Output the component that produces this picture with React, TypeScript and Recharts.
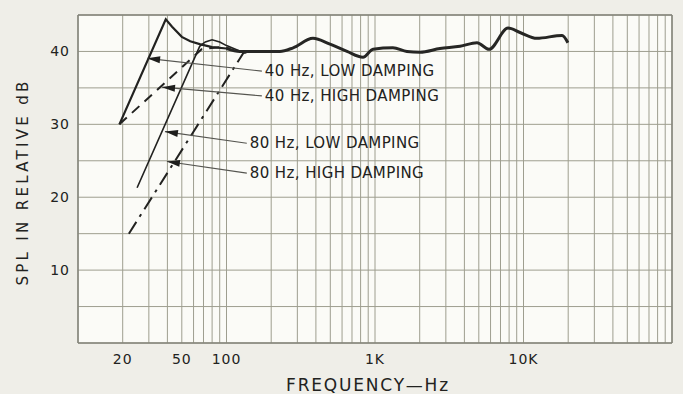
import React from 'react';
import {
  LineChart,
  Line,
  XAxis,
  YAxis,
  CartesianGrid,
  ReferenceLine
} from 'recharts';

// [frequency Hz, SPL dB]
const lowDamping40: [number, number][] = [
  [19, 30], [39, 44.4], [43, 43.4], [50, 42], [57, 41.4], [66, 41], [80, 40.6], [100, 40.4]
];
const highDamping40: [number, number][] = [
  [19, 30], [68, 40.3], [90, 40.6], [105, 40.4]
];
const lowDamping80: [number, number][] = [
  [25, 21.3], [66, 40.7], [72, 41.3], [80, 41.6], [90, 41.3], [100, 40.8], [125, 40]
];
const highDamping80: [number, number][] = [
  [22, 15], [130, 39.8], [160, 40.1]
];
const commonResponse: [number, number][] = [
  [100, 40.4], [123, 40], [168, 40], [229, 40], [281, 40.5], [382, 41.8], [498, 41],
  [648, 40], [830, 39.2], [970, 40.3], [1320, 40.5], [1640, 40], [2010, 39.9],
  [2740, 40.4], [3740, 40.7], [4860, 41.2], [5860, 40.3], [7870, 43.2], [9470, 42.6],
  [12300, 41.8], [18200, 42.2], [19900, 41.2]
];

const xLabels: Record<number, string> = { 20: '20', 50: '50', 100: '100', 1000: '1K', 10000: '10K' };
const yLabels = [10, 20, 30, 40];
const yGrid = [0, 5, 10, 15, 20, 25, 30, 35, 40, 45];

// annotation arrows: head point, tail point (both in Hz/dB), text
const noteHeads: [number, number][] = [[29.2, 39.05], [36.8, 35.1], [38.5, 29.0], [39.7, 24.9]];
const noteTails: [number, number][] = [[173, 37.3], [173, 33.9], [137, 27.4], [137, 23.3]];
const noteTexts = ['40 Hz, LOW DAMPING', '40 Hz, HIGH DAMPING', '80 Hz, LOW DAMPING', '80 Hz, HIGH DAMPING'];

const xGrid: number[] = [];
for (let d = 10; d < 100000; d *= 10) {
  for (let k = 1; k < 10; k++) xGrid.push(d * k);
}
xGrid.push(100000);

const toPts = (arr: [number, number][]) => arr.map(([f, db]) => ({ f, db }));

const FONT = '"DejaVu Sans", sans-serif';
const INK = '#222220';

const YLabel = (props: any) => {
  const vb = props.viewBox;
  const cx = 23;
  const cy = vb.y + vb.height / 2 + 3;
  return (
    <text
      x={cx}
      y={cy}
      transform={`rotate(-90 ${cx} ${cy})`}
      textAnchor="middle"
      dominantBaseline="central"
      fontFamily={FONT}
      fontSize={15}
      letterSpacing={3.3}
      fill={INK}
    >
      SPL IN RELATIVE dB
    </text>
  );
};

const XLabel = (props: any) => {
  const vb = props.viewBox;
  return (
    <text
      x={vb.x + vb.width / 2 - 7}
      y={391}
      textAnchor="middle"
      fontFamily={FONT}
      fontSize={17}
      letterSpacing={1.8}
      fill={INK}
    >
      FREQUENCY—Hz
    </text>
  );
};

const noteShape = (text: string) => (p: any) => {
  const { x1, y1, x2, y2 } = p;
  const dx = x2 - x1;
  const dy = y2 - y1;
  const len = Math.sqrt(dx * dx + dy * dy) || 1;
  const ux = dx / len;
  const uy = dy / len;
  const hl = 13;
  const hw = 3.5;
  const bx = x1 + ux * hl;
  const by = y1 + uy * hl;
  return (
    <g>
      <line x1={x1} y1={y1} x2={x2} y2={y2} stroke="#555550" strokeWidth={1.1} />
      <polygon
        points={`${x1},${y1} ${bx - uy * hw},${by + ux * hw} ${bx + uy * hw},${by - ux * hw}`}
        fill="#1e1e1c"
      />
      <text
        x={x2 + 3}
        y={y2}
        dominantBaseline="central"
        fontFamily={FONT}
        fontSize={15}
        letterSpacing={0.4}
        fill={INK}
      >
        {text}
      </text>
    </g>
  );
};

export default function App() {
  return (
    <div style={{ position: 'absolute', left: 0, top: 0, width: 683, height: 394, background: '#efeee8' }}>
      <LineChart width={683} height={394} margin={{ top: 15, right: 11, bottom: 0, left: 0 }}>
        <CartesianGrid
          stroke="#9e9e8f"
          strokeWidth={1}
          fill="#fbfbf7"
          verticalValues={xGrid}
          horizontalValues={yGrid}
        />
        <XAxis
          type="number"
          dataKey="f"
          scale="log"
          domain={[10, 100000]}
          ticks={xGrid}
          allowDataOverflow
          interval={0}
          height={51}
          tickLine={false}
          tickMargin={5}
          axisLine={{ stroke: '#85857b', strokeWidth: 1.5 }}
          tickFormatter={(v: number) => xLabels[v] ?? ''}
          tick={{ fontFamily: FONT, fontSize: 14, fill: INK, letterSpacing: 1 }}
          label={<XLabel />}
        />
        <YAxis
          type="number"
          domain={[0, 45]}
          ticks={yGrid}
          interval={0}
          width={78}
          tickLine={false}
          axisLine={{ stroke: '#85857b', strokeWidth: 1.5 }}
          tickFormatter={(v: number) => (yLabels.includes(v) ? String(v) : '')}
          tick={{ fontFamily: FONT, fontSize: 14, fill: INK, letterSpacing: 1 }}
          label={<YLabel />}
        />
        <ReferenceLine y={45} stroke="#85857b" strokeWidth={1.5} />
        <ReferenceLine x={100000} stroke="#85857b" strokeWidth={1.5} />
        <Line
          data={toPts(highDamping80)}
          dataKey="db"
          type="linear"
          stroke={INK}
          strokeWidth={2}
          strokeDasharray="14 6 3 6"
          dot={false}
          isAnimationActive={false}
        />
        <Line
          data={toPts(highDamping40)}
          dataKey="db"
          type="linear"
          stroke={INK}
          strokeWidth={2}
          strokeDasharray="10 7"
          dot={false}
          isAnimationActive={false}
        />
        <Line
          data={toPts(lowDamping80)}
          dataKey="db"
          type="linear"
          stroke={INK}
          strokeWidth={1.6}
          dot={false}
          isAnimationActive={false}
        />
        <Line
          data={toPts(lowDamping40)}
          dataKey="db"
          type="linear"
          stroke={INK}
          strokeWidth={2.2}
          dot={false}
          isAnimationActive={false}
        />
        <Line
          data={toPts(commonResponse)}
          dataKey="db"
          type="monotone"
          stroke="#262624"
          strokeWidth={3}
          dot={false}
          isAnimationActive={false}
        />
        {noteTexts.map((t, i) => (
          <ReferenceLine
            key={t}
            segment={[
              { x: noteHeads[i][0], y: noteHeads[i][1] },
              { x: noteTails[i][0], y: noteTails[i][1] }
            ]}
            shape={noteShape(t)}
          />
        ))}
      </LineChart>
    </div>
  );
}
